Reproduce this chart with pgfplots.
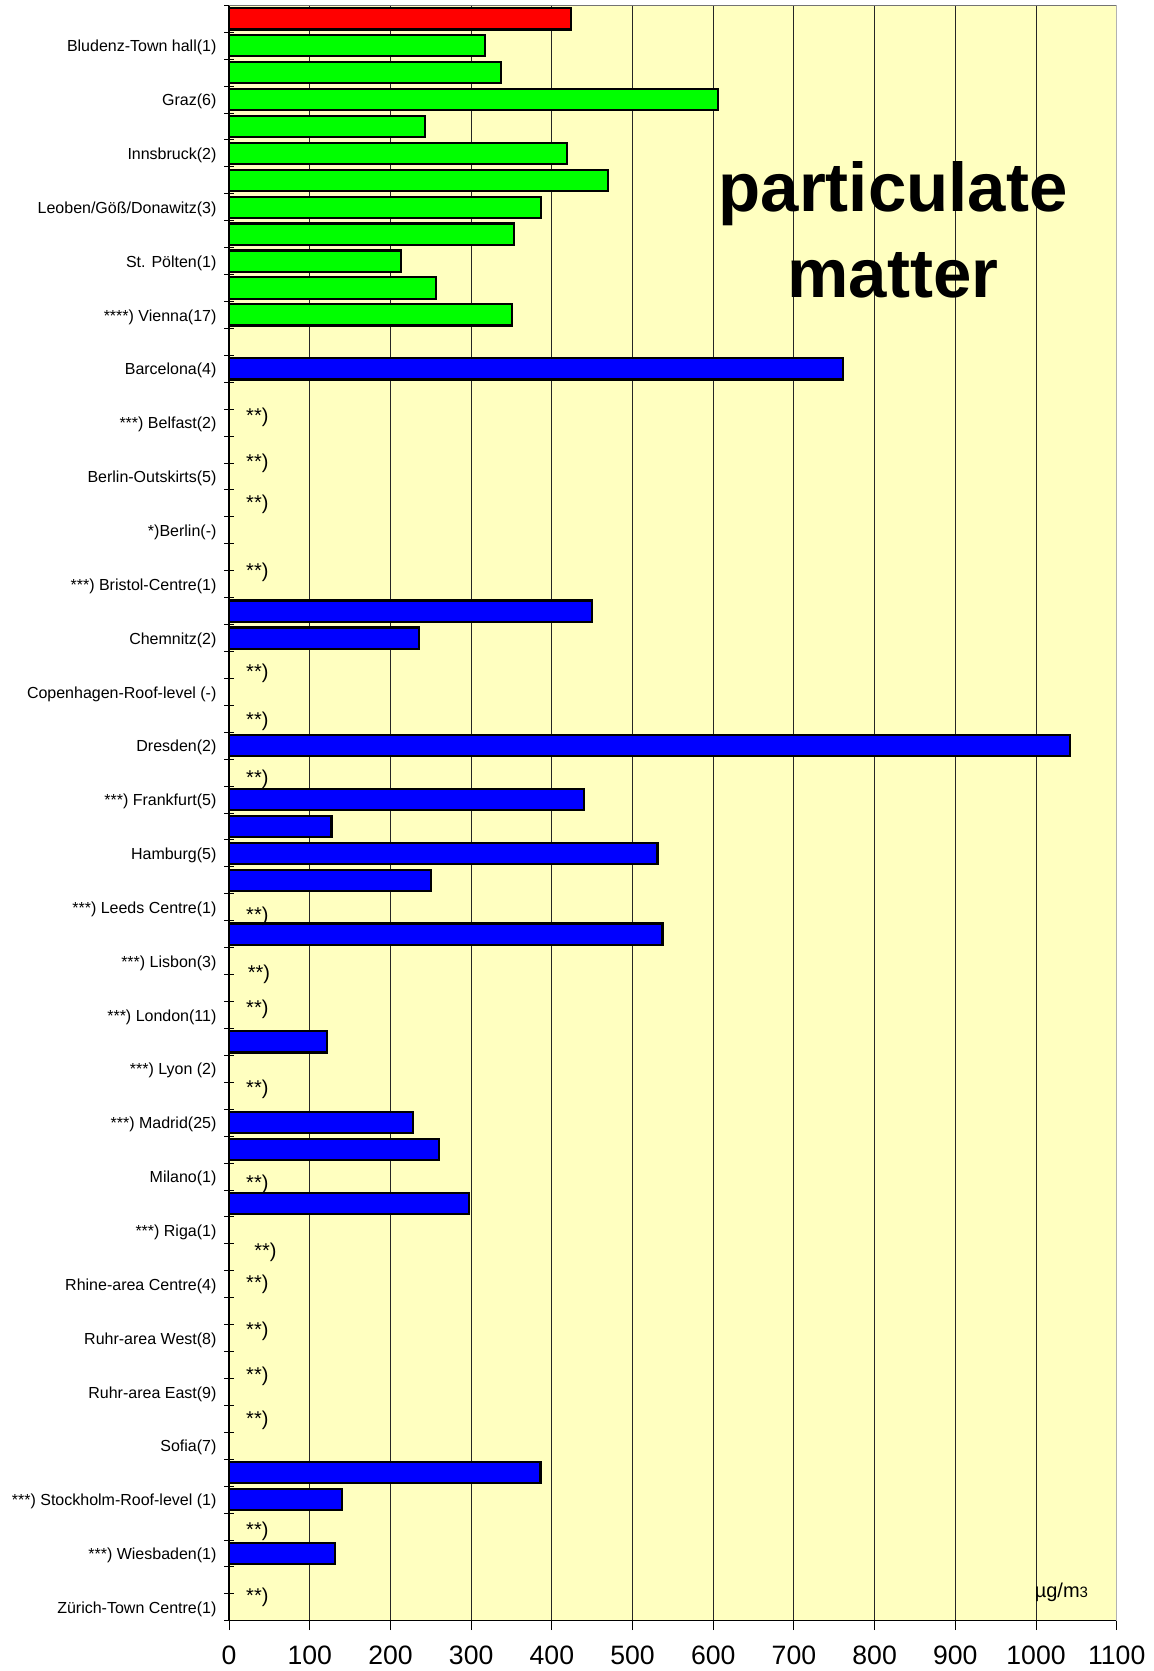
\documentclass[border=0pt]{standalone}
\usepackage{fontspec}
\setmainfont{Liberation Sans}
\usepackage{pgfplots}
\pgfplotsset{compat=1.18}
\definecolor{bgyellow}{RGB}{255,255,192}
\definecolor{barred}{RGB}{255,0,0}
\definecolor{bargreen}{RGB}{0,255,0}
\definecolor{barblue}{RGB}{0,0,255}

\begin{document}
\begin{tikzpicture}
\path[use as bounding box] (-114.55pt,-25.1pt) rectangle (462.45pt,810.4pt);
\begin{axis}[
  at={(0,0)}, anchor=south west,
  scale only axis, width=443.8pt, height=807.75pt,
  xmin=0, xmax=1100, ymin=-0.5, ymax=59.5, y dir=reverse,
  axis background/.style={fill=bgyellow},
  axis x line*=bottom, axis y line*=left,
  axis line style={black, line width=0.6pt},
  xtick={0,100,...,1100},
  xtick align=outside,
  ytick align=center,
  major tick length=4.6pt,
  tick style={black, line width=0.5pt},
  xmajorgrids,
  major grid style={black!85, line width=0.45pt},
  ytick={-0.5,0.5,...,59.5}, yticklabels={},
  extra y ticks={1,3,...,59},
  extra y tick labels={
    Bludenz-Town hall(1), Graz(6), Innsbruck(2), Leoben/Göß/Donawitz(3),
    St. Pölten(1), ****) Vienna(17), Barcelona(4), ***) Belfast(2),
    Berlin-Outskirts(5), *)Berlin(-), ***) Bristol-Centre(1), Chemnitz(2),
    Copenhagen-Roof-level (-), Dresden(2), ***) Frankfurt(5), Hamburg(5),
    ***) Leeds Centre(1), ***) Lisbon(3), ***) London(11), ***) Lyon (2),
    ***) Madrid(25), Milano(1), ***) Riga(1), Rhine-area Centre(4),
    Ruhr-area West(8), Ruhr-area East(9), Sofia(7),
    ***) Stockholm-Roof-level (1), ***) Wiesbaden(1)\hspace{2pt}, Zürich-Town Centre(1)},
  extra y tick style={tick style={draw=none},
    yticklabel style={font=\fontsize{8}{9.6}\selectfont, xshift=-0.5pt, yshift=-1pt}},
  xticklabel style={font=\fontsize{13.3}{16}\selectfont, yshift=-4.6pt},
  /pgf/number format/assume math mode=true,
  /pgf/number format/1000 sep={},
  clip=false,
]
% measured particulate concentrations
\addplot[xbar, bar width=0.79, bar shift=0pt, fill=barred, draw=black, line width=1.1pt]
  coordinates {(424,0)};
\addplot[xbar, bar width=0.79, bar shift=0pt, fill=bargreen, draw=black, line width=1.1pt]
  coordinates {(317,1) (337,2) (606,3) (243,4) (419,5) (470,6) (387,7) (353,8)
               (213,9) (256,10) (351,11)};
\addplot[xbar, bar width=0.79, bar shift=0pt, fill=barblue, draw=black, line width=1.1pt]
  coordinates {(761,13) (450,22) (235,23) (1042,27) (440,29) (127,30) (531,31)
               (250,32) (537,34) (121,38) (228,41) (260,42) (297,44) (386,54)
               (140,55) (131,57)};

% plot frame, top and right
\draw[black!55, line width=0.5pt] (axis cs:0,-0.5) -- (axis cs:1100,-0.5);
\draw[black!30, line width=0.5pt] (axis cs:1100,-0.5) -- (axis cs:1100,59.5);

% stations without data
\begin{scope}[every node/.style={font=\fontsize{10}{12}\selectfont, inner sep=0pt, yshift=-2.4pt}]
\node at (axis cs:35,14.62) {**)};
\node at (axis cs:35,16.32) {**)};
\node at (axis cs:35,17.86) {**)};
\node at (axis cs:35,20.39) {**)};
\node at (axis cs:35,24.15) {**)};
\node at (axis cs:35,25.90) {**)};
\node at (axis cs:35,28.07) {**)};
\node at (axis cs:35,33.14) {**)};
\node at (axis cs:37,35.31) {**)};
\node at (axis cs:35,36.62) {**)};
\node at (axis cs:35,39.59) {**)};
\node at (axis cs:35,43.11) {**)};
\node at (axis cs:45,45.64) {**)};
\node at (axis cs:35,46.83) {**)};
\node at (axis cs:35,48.57) {**)};
\node at (axis cs:35,50.23) {**)};
\node at (axis cs:35,51.89) {**)};
\node at (axis cs:35,56.01) {**)};
\node at (axis cs:35,58.46) {**)};
\end{scope}

\node[font=\bfseries\fontsize{34.5}{40}\selectfont, anchor=base, inner sep=0pt, yshift=-1pt]
  at (axis cs:822.8,7.10) {particulate};
\node[font=\bfseries\fontsize{34.5}{40}\selectfont, anchor=base, inner sep=0pt, yshift=-0.5pt]
  at (axis cs:822.8,10.30) {matter};
\node[font=\fontsize{10}{12}\selectfont, anchor=base west, inner sep=0pt]
  at (axis cs:998,58.65) {µg/m{\fontsize{7.5}{9}\selectfont 3}};
\end{axis}
\end{tikzpicture}
\end{document}
